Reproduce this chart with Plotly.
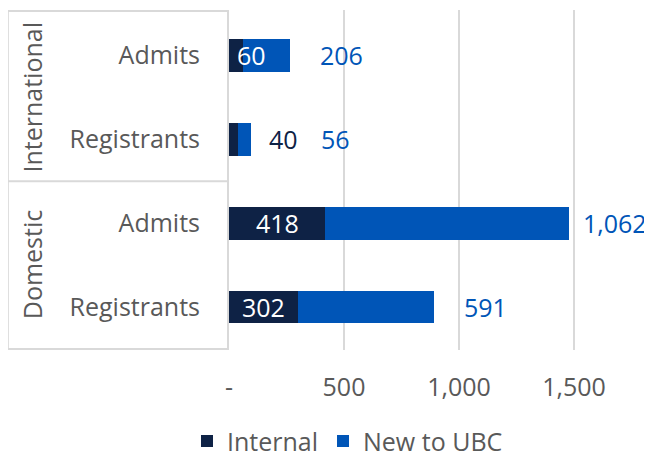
import plotly.graph_objects as go

groups = ["International", "International", "Domestic", "Domestic"]
stages = ["Admits", "Registrants", "Admits", "Registrants"]
internal = [60, 40, 418, 302]
new_to_ubc = [206, 56, 1062, 591]
tick_vals = [0, 500, 1000, 1500]
tick_text = ["-", "500", "1,000", "1,500"]

navy = "#0E2245"
blue = "#0055B7"
grey = "#595959"
line_grey = "#D9D9D9"
font = "Open Sans"
fs = 25

keys = [g + " " + s for g, s in zip(groups, stages)]

fig = go.Figure()
fig.add_trace(go.Bar(y=keys, x=internal, orientation="h", name="Internal",
                     marker=dict(color=navy, line=dict(width=0))))
fig.add_trace(go.Bar(y=keys, x=new_to_ubc, orientation="h", name="New to UBC",
                     marker=dict(color=blue, line=dict(width=0))))

# data labels, roughly where the original had them
for k, a, b in zip(keys, internal, new_to_ubc):
    if a >= 100:
        fig.add_annotation(x=a / 2, y=k, text=str(a), showarrow=False,
                           font=dict(color="white", size=fs, family=font))
    elif a >= 50:
        fig.add_annotation(x=0, y=k, text=str(a), showarrow=False, xanchor="left",
                           xshift=6, font=dict(color="white", size=fs, family=font))
    else:
        fig.add_annotation(x=a + b, y=k, text=str(a), showarrow=False, xanchor="left",
                           xshift=16, font=dict(color=navy, size=fs, family=font))
    fig.add_annotation(x=a + b, y=k, text=f"{b:,}", showarrow=False, xanchor="left",
                       xshift=(68 if a < 50 else (12 if b > 1000 else 28)),
                       font=dict(color=blue, size=fs, family=font))

# group labels and box lines on the left
for g, y in [("International", 0.5), ("Domestic", 2.5)]:
    fig.add_annotation(x=-0.535, xref="paper", xanchor="center", y=y, yref="y",
                       text=g, textangle=-90, showarrow=False,
                       font=dict(color=grey, size=fs, family=font))
for y in [1.5, 3.5]:
    fig.add_shape(type="line", xref="paper", yref="y", x0=-0.601, x1=0, y0=y, y1=y,
                  line=dict(color=line_grey, width=2))
fig.add_shape(type="line", xref="paper", yref="y", x0=-0.601, x1=-0.601, y0=-0.53, y1=3.5,
              line=dict(color=line_grey, width=2))
fig.add_shape(type="line", xref="paper", yref="y", x0=-0.601, x1=0, y0=-0.53, y1=-0.53,
              line=dict(color=line_grey, width=2))

# the page has an 8px body margin, so the figure is 8px smaller than the window
fig.update_layout(
    width=644, height=449,
    barmode="stack", bargap=0.61,
    margin=dict(l=221, r=55, t=2, b=107),
    plot_bgcolor="white", paper_bgcolor="white",
    font=dict(family=font, color=grey, size=fs),
    legend=dict(orientation="h", x=0.322, xanchor="center", yref="container",
                y=0.035, yanchor="middle", font=dict(size=fs, color=grey),
                itemwidth=30, traceorder="normal"),
    showlegend=True,
)
fig.update_xaxes(range=[0, 1600], tickvals=tick_vals, ticktext=tick_text,
                 showgrid=True, gridcolor=line_grey, gridwidth=2, zeroline=False,
                 showline=False, ticks="", ticklabelstandoff=20, automargin=False,
                 tickfont=dict(size=fs, color=grey))
fig.update_yaxes(categoryorder="array", categoryarray=keys, autorange="reversed",
                 tickvals=keys, ticktext=stages, showline=True, linecolor=line_grey,
                 linewidth=2, showgrid=False, ticks="", ticklabelstandoff=22,
                 automargin=False, tickfont=dict(size=fs, color=grey))

fig.write_html("out.html")
